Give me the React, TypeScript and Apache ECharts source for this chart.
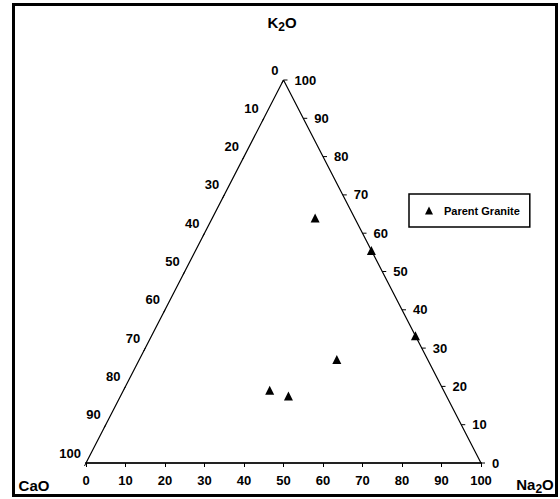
import React, { useEffect, useRef } from "react";
import * as echarts from "echarts";

// Tick values shared by the three sides of the ternary diagram
const axisTicks = [0, 10, 20, 30, 40, 50, 60, 70, 80, 90, 100];
const tickLabels = axisTicks.map((v) => String(v));

// Sample compositions (wt %, normalised): Parent Granite
const caO = [10, 0, 0, 23, 44, 40];
const na2O = [26, 44.5, 66.8, 50, 37, 42.5];
const k2O = [64, 55.5, 33.2, 27, 19, 17.5];

const seriesName = "Parent Granite";
const FONT = "'Liberation Sans', Arial, sans-serif";

export default function App() {
  const ref = useRef<HTMLDivElement>(null);

  useEffect(() => {
    if (!ref.current) return;
    const chart = echarts.init(ref.current, undefined, { renderer: "svg" });

    // ternary -> cartesian (x: Na2O + K2O/2, y: K2O)
    const points = caO.map((c, i) => [na2O[i] + k2O[i] / 2, k2O[i], c, na2O[i], k2O[i]]);
    const leftAxisData = axisTicks.map((v, i) => [(100 - v) / 2, 100 - v, i]);
    const rightAxisData = axisTicks.map((v, i) => [100 - v / 2, v, i]);

    const titleRich = {
      m: { fontSize: 15, fontWeight: "bold", fontFamily: FONT, fill: "#000", color: "#000" },
      s: { fontSize: 12, fontWeight: "bold", fontFamily: FONT, fill: "#000", color: "#000", padding: [10, 0, 0, 0] },
    };

    const option: any = {
      animation: false,
      backgroundColor: "#fff",
      grid: { left: 86, right: 79, top: 80, bottom: 36 },
      xAxis: {
        type: "value",
        min: 0,
        max: 100,
        interval: 10,
        splitLine: { show: false },
        axisLine: { show: true, lineStyle: { color: "#222", width: 2 } },
        axisTick: { show: true, length: 4, lineStyle: { color: "#000", width: 1 } },
        axisLabel: {
          margin: 11,
          color: "#000",
          fontFamily: FONT,
          fontWeight: "bold",
          fontSize: 13,
          formatter: (v: number) => tickLabels[axisTicks.indexOf(v)] ?? "",
        },
      },
      yAxis: {
        type: "value",
        min: 0,
        max: 100,
        show: false,
        splitLine: { show: false },
      },
      legend: {
        show: true,
        left: 409,
        top: 194,
        orient: "vertical",
        data: [{ name: seriesName, icon: "triangle" }],
        itemWidth: 8,
        itemHeight: 8,
        itemGap: 14,
        padding: [11, 10, 11, 16],
        borderColor: "#000",
        borderWidth: 1.5,
        textStyle: { color: "#000", fontFamily: FONT, fontSize: 11, fontWeight: "bold", padding: [0, 0, 0, 6] },
      },
      graphic: [
        {
          type: "rect",
          shape: { x: 13.5, y: 4.5, width: 543, height: 491 },
          style: { fill: "none", stroke: "#000", lineWidth: 3 },
          silent: true,
        },
        {
          type: "text",
          x: 282,
          y: 22,
          style: {
            text: "{m|K}{s|2}{m|O}",
            align: "center",
            verticalAlign: "middle",
            textAlign: "center",
            textVerticalAlign: "middle",
            rich: titleRich,
          },
        },
        {
          type: "text",
          x: 34,
          y: 485,
          style: {
            text: "CaO",
            align: "center",
            verticalAlign: "middle",
            textAlign: "center",
            textVerticalAlign: "middle",
            font: `bold 15px ${FONT}`,
            fill: "#000",
          },
        },
        {
          type: "text",
          x: 535,
          y: 484,
          style: {
            text: "{m|Na}{s|2}{m|O}",
            align: "center",
            verticalAlign: "middle",
            textAlign: "center",
            textVerticalAlign: "middle",
            rich: titleRich,
          },
        },
      ],
      series: [
        {
          type: "line",
          silent: true,
          symbol: "none",
          data: [
            [0, 0],
            [50, 100],
            [100, 0],
          ],
          lineStyle: { color: "#000", width: 1.2 },
          z: 2,
        },
        {
          type: "custom",
          silent: true,
          data: leftAxisData,
          renderItem: (params: any, api: any) => {
            const p = api.coord([api.value(0), api.value(1)]);
            const idx = api.value(2);
            return {
              type: "group",
              children: [
                {
                  type: "line",
                  shape: { x1: p[0], y1: p[1], x2: p[0] - 1.5, y2: p[1] + 3 },
                  style: { stroke: "#000", lineWidth: 1 },
                },
                {
                  type: "text",
                  x: p[0] - 5,
                  y: p[1] - 10,
                  style: {
                    text: tickLabels[idx],
                    align: "right",
                    verticalAlign: "middle",
                    textAlign: "right",
                    textVerticalAlign: "middle",
                    font: `bold 13px ${FONT}`,
                    fill: "#000",
                  },
                },
              ],
            };
          },
          z: 3,
        },
        {
          type: "custom",
          silent: true,
          data: rightAxisData,
          renderItem: (params: any, api: any) => {
            const p = api.coord([api.value(0), api.value(1)]);
            const idx = api.value(2);
            return {
              type: "group",
              children: [
                {
                  type: "line",
                  shape: { x1: p[0], y1: p[1], x2: p[0] + 4, y2: p[1] },
                  style: { stroke: "#000", lineWidth: 1 },
                },
                {
                  type: "text",
                  x: p[0] + 11,
                  y: p[1],
                  style: {
                    text: tickLabels[idx],
                    align: "left",
                    verticalAlign: "middle",
                    textAlign: "left",
                    textVerticalAlign: "middle",
                    font: `bold 13px ${FONT}`,
                    fill: "#000",
                  },
                },
              ],
            };
          },
          z: 3,
        },
        {
          name: seriesName,
          type: "scatter",
          symbol: "triangle",
          symbolSize: [9, 9],
          itemStyle: { color: "#000", opacity: 1 },
          data: points,
          z: 5,
        },
      ],
    };

    chart.setOption(option);
    return () => chart.dispose();
  }, []);

  return (
    <div
      ref={ref}
      style={{ position: "absolute", left: 0, top: 0, width: 560, height: 499 }}
    />
  );
}
